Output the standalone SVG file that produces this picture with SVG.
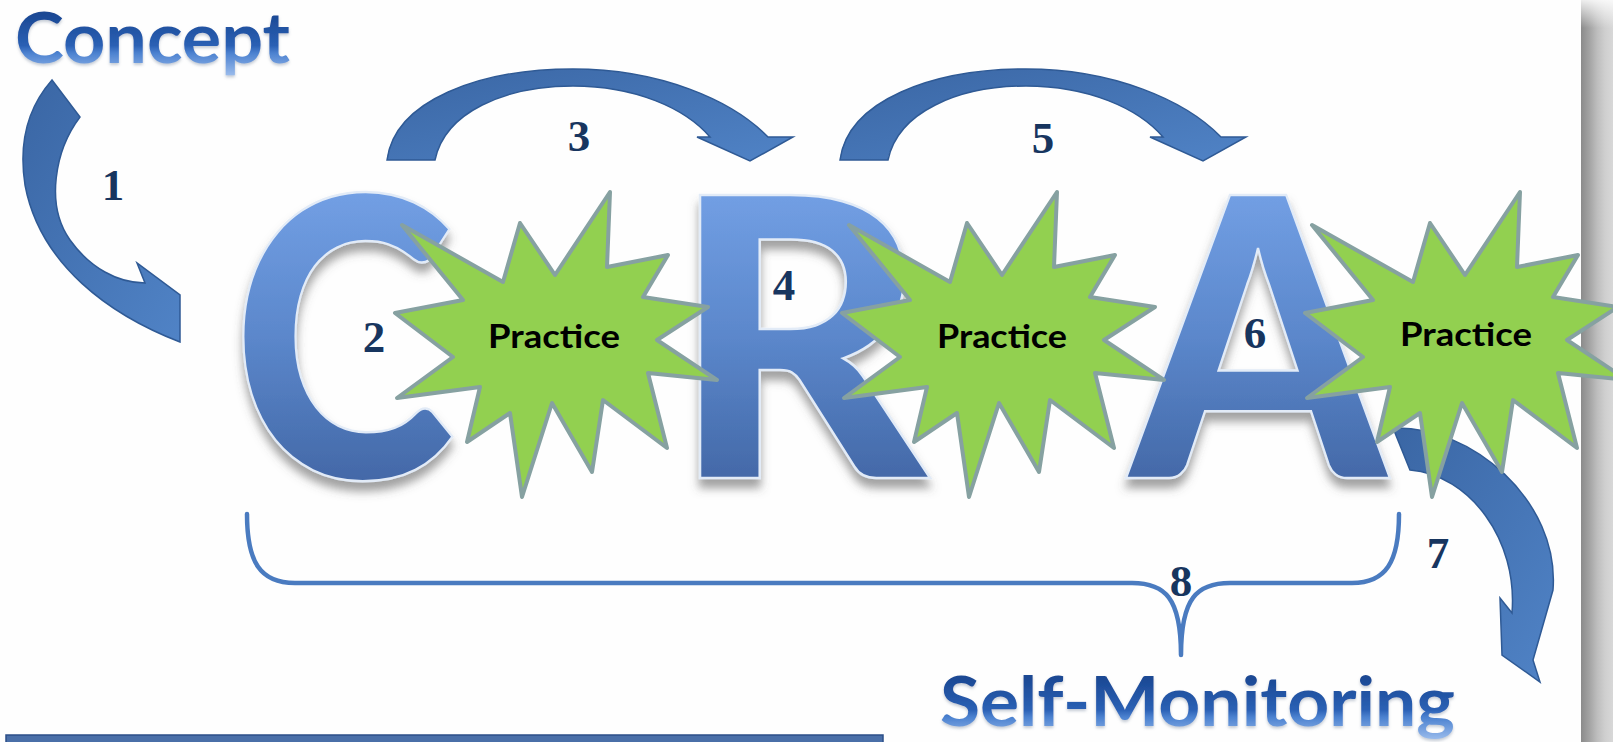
<svg xmlns="http://www.w3.org/2000/svg" width="1613" height="742" viewBox="0 0 1613 742">
  <defs>
    <style>
      .title { font-family: "Lato", "Open Sans", sans-serif; font-weight: 700; }
      .big { font-family: "Lato", "Open Sans", sans-serif; font-weight: 900; font-size: 390px; fill: url(#letterFill); stroke: #e2ebf7; stroke-width: 2.5; }
      .num { font-family: "Liberation Serif", "DejaVu Serif", serif; font-weight: bold; font-size: 45px; fill: #17355f; text-anchor: middle; }
      .star { fill: #92d050; stroke: #86a1a1; stroke-width: 4; stroke-linejoin: round; }
      .label { font-family: "Lato", "Open Sans", sans-serif; font-weight: 700; font-size: 32px; fill: #000; }
      .bend { fill: url(#arrowFill); stroke: #2f5a95; stroke-width: 1.5; stroke-linejoin: miter; }
      .brace { fill: none; stroke: #4a7bc0; stroke-width: 4.5; stroke-linejoin: round; stroke-linecap: round; }
    </style>
    <linearGradient id="letterFill" gradientUnits="userSpaceOnUse" x1="0" y1="192" x2="0" y2="483">
      <stop offset="0" stop-color="#729fe4"/>
      <stop offset="0.5" stop-color="#5b87cb"/>
      <stop offset="1" stop-color="#4368a7"/>
    </linearGradient>
    <linearGradient id="conceptFill" gradientUnits="userSpaceOnUse" x1="0" y1="13" x2="0" y2="78">
      <stop offset="0" stop-color="#1b4893"/>
      <stop offset="0.5" stop-color="#2a60b4"/>
      <stop offset="0.62" stop-color="#4c82d0"/>
      <stop offset="1" stop-color="#a3c2ef"/>
    </linearGradient>
    <linearGradient id="selfFill" gradientUnits="userSpaceOnUse" x1="0" y1="677" x2="0" y2="742">
      <stop offset="0" stop-color="#1b4893"/>
      <stop offset="0.5" stop-color="#2a60b4"/>
      <stop offset="0.62" stop-color="#4c82d0"/>
      <stop offset="1" stop-color="#a3c2ef"/>
    </linearGradient>
    <linearGradient id="arrowFill" x1="0" y1="0" x2="1" y2="1">
      <stop offset="0" stop-color="#3a66a4"/>
      <stop offset="1" stop-color="#5083c6"/>
    </linearGradient>
    <linearGradient id="sideBar" x1="0" y1="0" x2="1" y2="0">
      <stop offset="0" stop-color="#8b8b8b"/>
      <stop offset="0.25" stop-color="#a2a2a2"/>
      <stop offset="0.5" stop-color="#bdbdbd"/>
      <stop offset="0.75" stop-color="#cfcfcf"/>
      <stop offset="1" stop-color="#d8d8d8"/>
    </linearGradient>
    <linearGradient id="sideTop" x1="0" y1="0" x2="0" y2="1">
      <stop offset="0" stop-color="#ffffff" stop-opacity="0.85"/>
      <stop offset="1" stop-color="#ffffff" stop-opacity="0"/>
    </linearGradient>
    <filter id="lift" x="-15%" y="-10%" width="130%" height="130%">
      <feGaussianBlur in="SourceAlpha" stdDeviation="5"/>
      <feOffset dy="9" result="blur"/>
      <feFlood flood-color="#555555" flood-opacity="0.55"/>
      <feComposite in2="blur" operator="in"/>
      <feMerge>
        <feMergeNode/>
        <feMergeNode in="SourceGraphic"/>
      </feMerge>
    </filter>
    <filter id="soft" x="-5%" y="-20%" width="110%" height="150%">
      <feGaussianBlur in="SourceAlpha" stdDeviation="1.5"/>
      <feOffset dy="2" result="b"/>
      <feFlood flood-color="#7a8aa0" flood-opacity="0.45"/>
      <feComposite in2="b" operator="in"/>
      <feMerge>
        <feMergeNode/>
        <feMergeNode in="SourceGraphic"/>
      </feMerge>
    </filter>
    <polygon id="burst" points="402,225 503,282 520,223 555,275 610,192 607,267 668,255 643,297 708,307 657,340 717,380 648,373 667,448 603,400 592,472 552,403 522,497 510,413 467,442 480,387 397,398 453,357 395,313 463,300"/>
    <path id="hop" d="M387,160 C395,100 480,69 573,69 C660,69 732,100 768,137 L793,137 L750,161 L697,137 L710,137 C685,108 635,86 573,86 C505,86 445,112 435,160 Z"/>
  </defs>

  <rect width="1613" height="742" fill="#fefefe"/>

  <!-- page edge on the right -->
  <g id="side-bar">
    <rect x="1581" y="0" width="32" height="742" fill="url(#sideBar)"/>
    <rect x="1581" y="0" width="32" height="28" fill="url(#sideTop)"/>
  </g>

  <!-- rule at the bottom left -->
  <rect id="bottom-rule" x="6" y="735" width="877" height="10" fill="#4a6fa8" stroke="#2c4f88" stroke-width="1.5"/>

  <g id="concept">
    <text class="title" x="15" y="63" font-size="70" textLength="275" lengthAdjust="spacingAndGlyphs" fill="url(#conceptFill)" filter="url(#soft)">Concept</text>
  </g>

  <g id="self-monitoring">
    <text class="title" x="940" y="726" font-size="68" textLength="515" lengthAdjust="spacingAndGlyphs" fill="url(#selfFill)" filter="url(#soft)">Self-Monitoring</text>
  </g>

  <g id="letter-c" filter="url(#lift)">
    <text class="big" x="343.5" y="478" text-anchor="middle" transform="matrix(0.87,0,0,1,44.66,0)">C</text>
  </g>
  <g id="letter-r" filter="url(#lift)">
    <text class="big" x="799" y="478" text-anchor="middle" transform="matrix(1.02,0,0,1,-15.98,0)">R</text>
  </g>
  <g id="letter-a" filter="url(#lift)">
    <text class="big" x="1258" y="478" text-anchor="middle" transform="matrix(0.94,0,0,1,75.48,0)">A</text>
  </g>

  <!-- connectors: curved arrows and the closing brace -->
  <g id="connectors">
    <path id="arrow-1" class="bend" d="M52,80 L80,117 C55,150 45,205 70,240 C90,268 118,283 145,283 L137,263 L180,295 L180,342 C110,315 40,265 25,185 C18,140 30,105 52,80 Z"/>
    <use id="arrow-3" href="#hop" class="bend"/>
    <use id="arrow-5" href="#hop" class="bend" transform="translate(453,0)"/>
    <path id="arrow-7" class="bend" d="M1393,428 C1470,425 1560,500 1553,590 L1533,660 L1540,682 L1502,655 L1500,598 L1512,613 C1518,540 1470,475 1410,470 Z"/>
    <path id="brace-8" class="brace" d="M247,514 C247,562 260,583 295,583 L1132,583 C1165,583 1181,598 1181,655 C1181,598 1197,583 1230,583 L1352,583 C1386,583 1399,562 1399,514"/>
  </g>

  <g id="practice-1">
    <use href="#burst" class="star"/>
    <text class="label" x="488" y="348" textLength="132" lengthAdjust="spacingAndGlyphs">Practice</text>
  </g>
  <g id="practice-2">
    <use href="#burst" class="star" transform="translate(447,0)"/>
    <text class="label" x="937" y="348" textLength="130" lengthAdjust="spacingAndGlyphs">Practice</text>
  </g>
  <g id="practice-3">
    <use href="#burst" class="star" transform="translate(910,0)"/>
    <text class="label" x="1400" y="346" textLength="132" lengthAdjust="spacingAndGlyphs">Practice</text>
  </g>

  <g id="step-numbers">
    <text class="num" x="113" y="200">1</text>
    <text class="num" x="374" y="352">2</text>
    <text class="num" x="579" y="151">3</text>
    <text class="num" x="784" y="300">4</text>
    <text class="num" x="1043" y="153">5</text>
    <text class="num" x="1255" y="348">6</text>
    <text class="num" x="1438" y="568">7</text>
    <text class="num" x="1181" y="596">8</text>
  </g>
</svg>
